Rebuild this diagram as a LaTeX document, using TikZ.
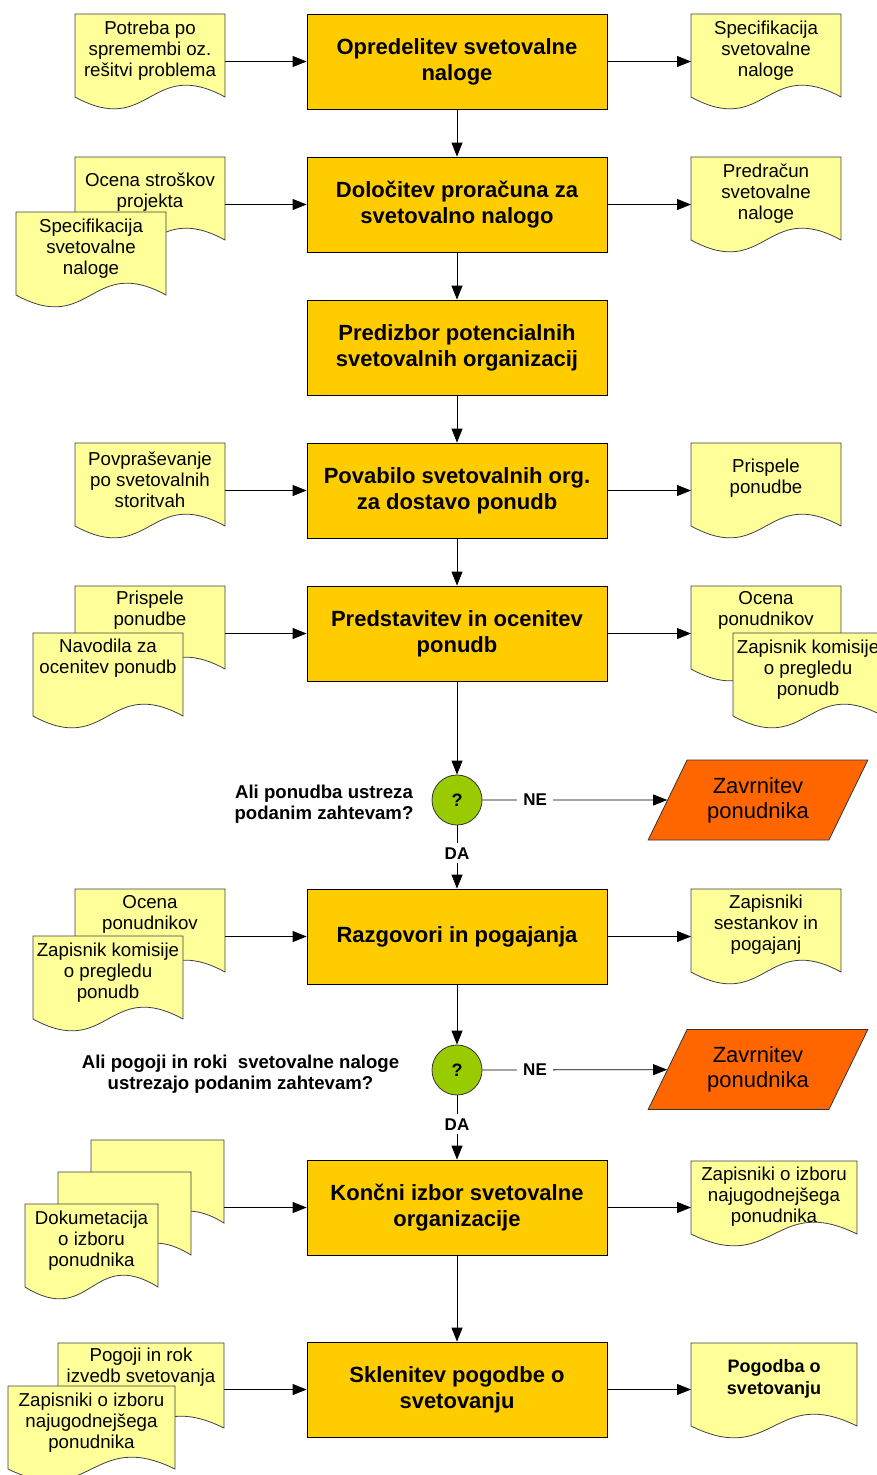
\documentclass[tikz,border=0pt]{standalone}
\usepackage{fontspec}
\setmainfont{Liberation Sans}
\usetikzlibrary{arrows.meta,shapes.geometric}
\definecolor{procfill}{HTML}{FFCC00}
\definecolor{docfill}{HTML}{FFFF99}
\definecolor{decfill}{HTML}{99CC00}
\definecolor{rejfill}{HTML}{FF6600}
\tikzset{
  proc/.style={draw=black, line width=0.8pt, fill=procfill, minimum width=300pt, minimum height=95pt, inner sep=0pt, font=\fontsize{22}{26}\selectfont\bfseries, align=center},
  docbody/.style={draw=black!75, line width=0.8pt, fill=docfill},
  doctext/.style={inner sep=0pt, font=\fontsize{18.7}{21}\selectfont, align=center},
  docbold/.style={font=\fontsize{18}{22}\selectfont\bfseries},
  dec/.style={circle, draw=black!80, line width=0.8pt, fill=decfill, minimum size=50pt, inner sep=0pt, font=\fontsize{18}{20}\selectfont\bfseries},
  rej/.style={trapezium, trapezium left angle=58.5, trapezium right angle=121.5, trapezium stretches=true, minimum width=220pt, minimum height=80pt, draw=black!80, line width=0.8pt, fill=rejfill, font=\fontsize{22}{25}\selectfont, align=center, inner sep=0pt},
  arr/.style={-{Triangle[length=14pt,width=11pt]}, line width=0.8pt},
  lbl/.style={fill=white, font=\fontsize{17}{20}\selectfont\bfseries, inner xsep=6pt, inner ysep=4pt},
  question/.style={font=\fontsize{18.6}{21}\selectfont\bfseries, align=center}
}
% #1 name, #2 L, #3 T, #4 width, #5 side height, #6 text y offset, #7 extra text style, #8 text
\newcommand\docu[8]{%
  \filldraw[docbody] (#2,#3) -- ({#2+#4},#3) -- ({#2+#4},{#3+#5})
     .. controls ({#2+0.5*#4},{#3+#5-41}) and ({#2+0.5*#4},{#3+#5+41}) .. (#2,{#3+#5}) -- cycle;
  \node[inner sep=0pt, outer sep=0pt, minimum width=#4pt, minimum height=#5pt, anchor=north west] (#1) at (#2,#3) {};
  \node[doctext,#7] (#1t) at ({#2+0.5*#4},{#3+#6}) {#8};
}
\begin{document}
\begin{tikzpicture}[x=1pt,y=-1pt]
\useasboundingbox (0,0) rectangle (877,1475);

% main process boxes
\node[proc] (b1) at (457,61.5) {Opredelitev svetovalne\\naloge};
\node[proc] (b2) at (457,204.5) {Določitev proračuna za\\svetovalno nalogo};
\node[proc] (b3) at (457,347.5) {Predizbor potencialnih\\svetovalnih organizacij};
\node[proc] (b4) at (457,490.5) {Povabilo svetovalnih org.\\za dostavo ponudb};
\node[proc] (b5) at (457,633.5) {Predstavitev in ocenitev\\ponudb};
\node[proc] (b6) at (457,936.5) {Razgovori in pogajanja};
\node[proc] (b7) at (457,1207.5) {Končni izbor svetovalne\\organizacije};
\node[proc] (b8) at (457,1389.5) {Sklenitev pogodbe o\\svetovanju};

% decisions and rejections
\node[dec] (c1) at (457,800) {?};
\node[dec] (c2) at (457,1070) {?};
\node[rej] (z1) at (758,800) {Zavrnitev\\ponudnika};
\node[rej] (z2) at (758,1069.5) {Zavrnitev\\ponudnika};
\node[question] (q1) at (324,804) {Ali ponudba ustreza\\podanim zahtevam?};
\node[question] (q2) at (240.5,1074) {Ali pogoji in roki\ \ svetovalne naloge\\ustrezajo podanim zahtevam?};

% documents
\docu{l1}{75}{14}{150}{83}{37}{}{Potreba po\\spremembi oz.\\rešitvi problema}
\docu{r1}{691}{14}{150}{83}{37}{}{Specifikacija\\svetovalne\\naloge}
\docu{l2a}{75}{157}{150}{83}{35.5}{}{Ocena stroškov\\projekta}
\docu{l2b}{16}{212}{150}{83}{37}{}{Specifikacija\\svetovalne\\naloge}
\docu{r2}{691}{157}{150}{83}{37}{}{Predračun\\svetovalne\\naloge}
\docu{l4}{75}{443}{150}{83}{37}{}{Povpraševanje\\po svetovalnih\\storitvah}
\docu{r4}{691}{443}{150}{83}{35.5}{}{Prispele\\ponudbe}
\docu{l5a}{75}{586}{150}{83}{24.5}{}{Prispele\\ponudbe}
\docu{l5b}{33}{633}{150}{83}{25}{}{Navodila za\\ocenitev ponudb}
\docu{r5a}{691}{586}{150}{83}{24.5}{}{Ocena\\ponudnikov}
\docu{r5b}{733}{633}{150}{83}{36.5}{}{Zapisnik komisije\\o pregledu\\ponudb}
\docu{l6a}{75}{889}{150}{83}{25}{}{Ocena\\ponudnikov}
\docu{l6b}{33}{936}{150}{83}{36.5}{}{Zapisnik komisije\\o pregledu\\ponudb}
\docu{r6}{691}{889}{150}{83}{35.5}{}{Zapisniki\\sestankov in\\pogajanj}
\docu{l7a}{91}{1140}{133}{83}{35}{}{}
\docu{l7b}{58}{1172}{133}{83}{35}{}{}
\docu{l7c}{25}{1204}{133}{83}{36.5}{}{Dokumetacija\\o izboru\\ponudnika}
\docu{r7}{691}{1161}{166}{73}{35.5}{}{Zapisniki o izboru\\najugodnejšega\\ponudnika}
\docu{l8a}{58}{1343}{166}{85}{24.5}{}{Pogoji in rok\\izvedb svetovanja}
\docu{l8b}{8}{1386}{167}{83}{36.5}{}{Zapisniki o izboru\\najugodnejšega\\ponudnika}
\docu{r8}{691}{1343}{166}{83}{35.5}{docbold}{Pogodba o\\svetovanju}

% vertical flow
\draw[arr] (b1) -- (b2);
\draw[arr] (b2) -- (b3);
\draw[arr] (b3) -- (b4);
\draw[arr] (b4) -- (b5);
\draw[arr] (b5) -- (c1);
\draw[arr] (c1) -- node[lbl,pos=0.44] (da1) {DA} (b6);
\draw[arr] (b6) -- (c2);
\draw[arr] (c2) -- node[lbl,pos=0.45] (da2) {DA} (b7);
\draw[arr] (b7) -- (b8);
\draw[arr] (c1) -- node[lbl,pos=0.285] (ne1) {NE} (z1);
\draw[arr] (c2) -- node[lbl,pos=0.285] (ne2) {NE} (z2);

% inputs
\draw[arr] (b1.west -| l1.east) -- (b1.west);
\draw[arr] (b2.west -| l2a.east) -- (b2.west);
\draw[arr] (b4.west -| l4.east) -- (b4.west);
\draw[arr] (b5.west -| l5a.east) -- (b5.west);
\draw[arr] (b6.west -| l6a.east) -- (b6.west);
\draw[arr] (b7.west -| l7a.east) -- (b7.west);
\draw[arr] (b8.west -| l8a.east) -- (b8.west);

% outputs
\draw[arr] (b1.east) -- (b1.east -| r1.west);
\draw[arr] (b2.east) -- (b2.east -| r2.west);
\draw[arr] (b4.east) -- (b4.east -| r4.west);
\draw[arr] (b5.east) -- (b5.east -| r5a.west);
\draw[arr] (b6.east) -- (b6.east -| r6.west);
\draw[arr] (b7.east) -- (b7.east -| r7.west);
\draw[arr] (b8.east) -- (b8.east -| r8.west);
\end{tikzpicture}
\end{document}
